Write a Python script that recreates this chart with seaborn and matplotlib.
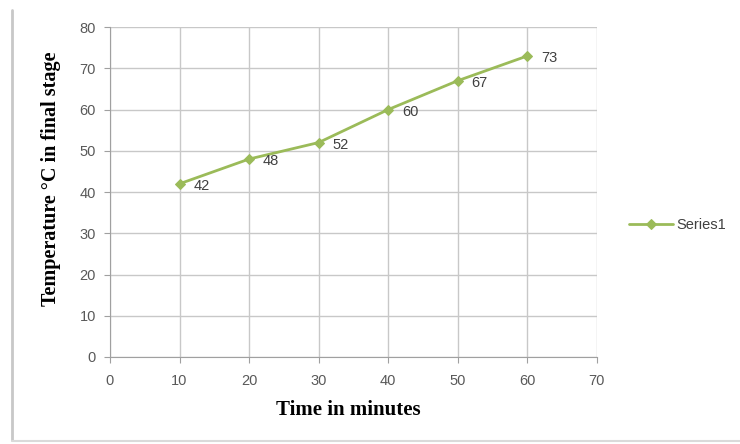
import matplotlib
matplotlib.use("Agg")
import matplotlib.pyplot as plt
import pandas as pd
import seaborn as sns

# data
time_min = [10, 20, 30, 40, 50, 60]
temp_c = [42, 48, 52, 60, 67, 73]
series_name = "Series1"

df = pd.DataFrame({"time": time_min, "temp": temp_c})

sns.set_style("white")
plt.rcParams["font.family"] = ["Liberation Sans", "DejaVu Sans"]

fig = plt.figure(figsize=(7.4, 4.44), dpi=100)
ax = fig.add_axes([0.1486, 0.196, 0.658, 0.743])

green = "#9BBB59"
sns.lineplot(data=df, x="time", y="temp", ax=ax, color=green, lw=2,
             marker="D", markersize=5, markeredgecolor=green, label=series_name)

# data labels to the right of each point
for x, y in zip(time_min, temp_c):
    ax.annotate(str(y), (x, y), xytext=(10, -1.5), textcoords="offset points",
                ha="left", va="center", fontsize=10.5, color="#404040")

ax.set_xlim(0, 70)
ax.set_ylim(0, 80)
ax.set_xticks(range(0, 71, 10))
ax.set_yticks(range(0, 81, 10))
ax.grid(True, color="#C8C8C8", lw=1)
for s in ["top", "right"]:
    ax.spines[s].set_visible(False)
for s in ["left", "bottom"]:
    ax.spines[s].set_color("#A0A0A0")
ax.tick_params(axis="both", colors="#A0A0A0", labelcolor="#595959",
               labelsize=10.5, length=4, direction="out", bottom=True, left=True)
ax.tick_params(axis="x", pad=8)
ax.tick_params(axis="y", pad=6)

ax.set_xlabel("Time in minutes", family="Liberation Serif", fontweight="bold",
              fontsize=15, color="black", labelpad=8)
ax.set_ylabel("Temperature °C in final stage", family="Liberation Serif",
              fontweight="bold", fontsize=14.5, color="black", labelpad=10)
ax.yaxis.set_label_coords(-0.10, 0.54)
ax.xaxis.set_label_coords(0.49, -0.13)

ax.legend(loc="center left", bbox_to_anchor=(1.04, 0.4), frameon=False,
          fontsize=10.5, handlelength=3.0, handletextpad=0.2, labelcolor="#404040")

# faint left and bottom frame lines of the chart area
fig.add_artist(plt.Line2D([0.016, 0.016], [0.008, 0.978], color="#C8C8C8", lw=2))
fig.add_artist(plt.Line2D([0.016, 1.0], [0.006, 0.006], color="#DADADA", lw=1.5))

fig.savefig("out.png", dpi=100)
